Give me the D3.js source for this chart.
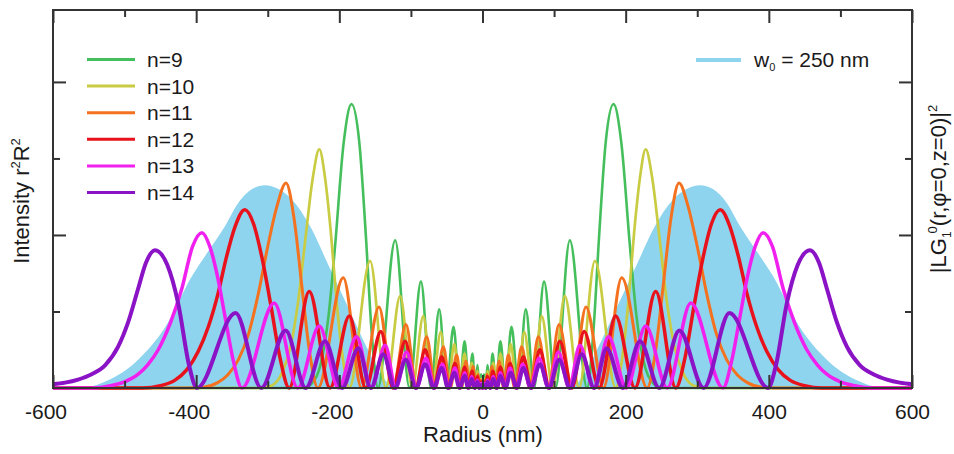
<!DOCTYPE html>
<html>
<head>
<meta charset="utf-8">
<script src="https://cdn.jsdelivr.net/npm/d3@7.9.0/dist/d3.min.js"></script>
<style>
  body { margin: 0; background: #fff; }
  svg { display: block; font-family: "Liberation Sans", Arial, sans-serif; }
</style>
</head>
<body>
<svg width="954" height="454"></svg>
<script>
// positive radius only (the plot is mirror-symmetric)
// [radius nm, intensity in tick units]
const n9 = [[0,0],[2,0.18],[4.5,0],[7,0.3],[10.5,0],[14,0.45],[19,0],[25,0.61],[32,0],[40.5,0.8],[50,0],[60.5,1.03],[72,0],[86,1.39],[102,0],[122,1.93],[146,0],[155,0.75],[163,2.0],[172,3.2],[183,3.71],[194,3.2],[206,1.85],[215,0.95],[224,0.4],[235,0.1],[250,0],[600,0]];
const n10 = [[0,0],[2,0.12],[4.5,0],[7,0.22],[11,0],[15,0.33],[20,0],[25,0.45],[32,0],[39.4,0.575],[48,0],[58.4,0.73],[70,0],[82.7,0.94],[98,0],[115,1.2],[135,0],[157,1.66],[186,0],[196,0.45],[204,1.15],[212,2.05],[220,2.75],[228,3.12],[237,2.75],[248,1.9],[258,1.1],[268,0.55],[280,0.2],[295,0.03],[312,0],[600,0]];
const n11 = [[0,0],[2,0.1],[4,0],[6,0.18],[9.5,0],[13,0.28],[18,0],[23,0.35],[29.5,0],[36,0.43],[45,0],[54.7,0.54],[66,0],[78,0.67],[92,0],[107,0.83],[125,0],[144.6,1.06],[169,0],[194.5,1.44],[230,0],[242,0.5],[252,1.3],[263,2.2],[274.5,2.68],[287,2.38],[300,1.85],[313,1.24],[327,0.7],[341,0.37],[356,0.17],[370,0.07],[390,0.01],[410,0],[600,0]];
const n12 = [[0,0],[2,0.08],[4.5,0],[7,0.15],[10.5,0],[14.5,0.22],[19.5,0],[25,0.27],[31.5,0],[38.4,0.32],[47,0],[57,0.41],[68,0],[80,0.5],[93.5,0],[108,0.61],[125,0],[142,0.74],[163,0],[186,0.94],[213,0],[242,1.26],[270,0],[283,0.4],[296,1.1],[308,1.7],[320,2.15],[332,2.33],[346,2.1],[358,1.7],[369,1.25],[383,0.8],[397,0.48],[413,0.24],[430,0.1],[450,0.03],[475,0],[600,0]];
const n13 = [[0,0],[2,0.06],[4.5,0],[7,0.1],[11,0],[15,0.15],[20,0],[25,0.2],[31.5,0],[38.4,0.26],[47,0],[56,0.31],[67,0],[79,0.39],[92,0],[106,0.47],[121,0],[136,0.56],[155,0],[176,0.67],[201,0],[228,0.81],[258,0],[291,1.11],[336,0],[348,0.35],[360,0.95],[370,1.45],[381,1.85],[392,2.03],[405,1.85],[420,1.3],[436,0.85],[453,0.5],[468,0.3],[481,0.18],[500,0.08],[520,0.03],[545,0],[600,0]];
const n14 = [[0,0],[2,0.04],[4.5,0],[7,0.08],[11,0],[15,0.12],[20,0],[25,0.16],[32,0],[39.4,0.2],[48,0],[57,0.26],[68,0],[80,0.31],[93,0],[107,0.37],[122.5,0],[138.6,0.44],[156,0],[173.5,0.52],[196,0],[220,0.61],[247,0],[275,0.75],[309,0],[345,0.98],[399,0],[410,0.3],[425,1.1],[440,1.6],[457.5,1.8],[470,1.64],[481,1.3],[495,0.86],[509,0.54],[527,0.3],[546,0.18],[565,0.11],[583,0.07],[600,0.05]];
const lg = [[0,0],[120,0],[140,0.15],[160,0.5],[190,1.1],[215,1.6],[240,2.1],[266,2.46],[285,2.6],[304,2.65],[322,2.6],[341,2.42],[360,2.11],[385,1.76],[406,1.46],[443,0.8],[481,0.37],[523,0.1],[555,0.01],[600,0]];

const seriesNames = ['n=9', 'n=10', 'n=11', 'n=12', 'n=13', 'n=14'];
const seriesData = [n9, n10, n11, n12, n13, n14];
const seriesColors = ['#45bf5c', '#c9cc42', '#f4721f', '#e8121c', '#f021ee', '#8b13c6'];
const seriesWidths = [2.6, 2.7, 3, 3.5, 3.5, 4];
const blueColor = '#8fd4ee';

const xMajor = [-600, -400, -200, 0, 200, 400, 600];
const xMinor = [-500, -300, -100, 100, 300, 500];
const yMajor = [2, 4];
const yMinor = [1, 3];

const svg = d3.select('svg');
const x = d3.scaleLinear().domain([-600, 600]).range([53, 912]);
const y = d3.scaleLinear().domain([0, 4.94]).range([388, 10]);

// mirror the half profile onto negative radius
const mirror = (pts) => pts.slice(1).map(([r, v]) => [-r, v]).reverse().concat(pts);

const line = d3.line().x(d => x(d[0])).y(d => y(d[1])).curve(d3.curveMonotoneX);
const area = d3.area().x(d => x(d[0])).y0(y(0)).y1(d => y(d[1])).curve(d3.curveMonotoneX);

svg.append('path')
  .attr('d', area(mirror(lg)))
  .attr('fill', blueColor);

seriesData.forEach((pts, i) => {
  svg.append('path')
    .attr('d', line(mirror(pts)))
    .attr('fill', 'none')
    .attr('stroke', seriesColors[i])
    .attr('stroke-width', seriesWidths[i])
    .attr('stroke-linejoin', 'round');
});

// axes, ticks pointing inward
const axisColor = '#333';
function styleAxis(g) {
  g.select('.domain').remove();
  g.selectAll('line').attr('stroke', axisColor).attr('stroke-width', 2);
  g.selectAll('text').attr('font-size', 21).attr('fill', '#1a1a1a')
    .style('font-family', '"Liberation Sans", Arial, sans-serif');
}

svg.append('g').attr('transform', 'translate(0,388)')
  .call(d3.axisBottom(x).tickValues(xMajor).tickSize(-13).tickPadding(16).tickFormat(d => String(d)))
  .call(styleAxis)
  .selectAll('text').attr('dx', d => d < 0 ? -7.5 : 0);
svg.append('g').attr('transform', 'translate(0,388)')
  .call(d3.axisBottom(x).tickValues(xMinor).tickSize(-7).tickFormat(''))
  .call(styleAxis);
svg.append('g').attr('transform', 'translate(0,10)')
  .call(d3.axisTop(x).tickValues(xMajor).tickSize(-13).tickFormat(''))
  .call(styleAxis);
svg.append('g').attr('transform', 'translate(0,10)')
  .call(d3.axisTop(x).tickValues(xMinor).tickSize(-7).tickFormat(''))
  .call(styleAxis);
svg.append('g').attr('transform', 'translate(53,0)')
  .call(d3.axisLeft(y).tickValues(yMajor).tickSize(-13).tickFormat(''))
  .call(styleAxis);
svg.append('g').attr('transform', 'translate(53,0)')
  .call(d3.axisLeft(y).tickValues(yMinor).tickSize(-7).tickFormat(''))
  .call(styleAxis);
svg.append('g').attr('transform', 'translate(912,0)')
  .call(d3.axisRight(y).tickValues(yMajor).tickSize(-13).tickFormat(''))
  .call(styleAxis);
svg.append('g').attr('transform', 'translate(912,0)')
  .call(d3.axisRight(y).tickValues(yMinor).tickSize(-7).tickFormat(''))
  .call(styleAxis);

svg.append('rect')
  .attr('x', x(-600)).attr('y', y(4.94))
  .attr('width', x(600) - x(-600)).attr('height', y(0) - y(4.94))
  .attr('fill', 'none').attr('stroke', axisColor).attr('stroke-width', 2);

// axis titles
svg.append('text')
  .attr('x', 483).attr('y', 442)
  .attr('text-anchor', 'middle').attr('font-size', 22).attr('fill', '#1a1a1a')
  .text('Radius (nm)');

const yTitle = svg.append('text')
  .attr('transform', 'translate(29,201) rotate(-90)')
  .attr('text-anchor', 'middle').attr('font-size', 22).attr('fill', '#1a1a1a');
yTitle.append('tspan').text('Intensity r');
yTitle.append('tspan').attr('font-size', 13).attr('dy', -9).text('2');
yTitle.append('tspan').attr('dy', 9).text('R');
yTitle.append('tspan').attr('font-size', 13).attr('dy', -9).text('2');

const rTitle = svg.append('text')
  .attr('transform', 'translate(946,189) rotate(-90)')
  .attr('text-anchor', 'middle').attr('font-size', 22).attr('fill', '#1a1a1a');
rTitle.append('tspan').text('|LG');
rTitle.append('tspan').attr('font-size', 12).attr('dy', 5).text('1');
rTitle.append('tspan').attr('font-size', 13).attr('dy', -14).attr('dx', -2).text('0');
rTitle.append('tspan').attr('dy', 9).text('(r,\u03c6=0,z=0)|');
rTitle.append('tspan').attr('font-size', 13).attr('dy', -9).text('2');

// legend, left
const legend = svg.append('g');
seriesNames.forEach((name, i) => {
  const ly = 59.5 + i * 26.6;
  legend.append('line')
    .attr('x1', 87).attr('x2', 135).attr('y1', ly).attr('y2', ly)
    .attr('stroke', seriesColors[i]).attr('stroke-width', 3);
  legend.append('text')
    .attr('x', 147).attr('y', ly + 7.5)
    .attr('font-size', 21).attr('fill', '#1a1a1a')
    .text(name);
});

// legend, right
svg.append('line')
  .attr('x1', 696).attr('x2', 741).attr('y1', 60).attr('y2', 60)
  .attr('stroke', blueColor).attr('stroke-width', 4);
const wText = svg.append('text')
  .attr('x', 754).attr('y', 67).attr('font-size', 21).attr('fill', '#1a1a1a');
wText.append('tspan').text('w');
wText.append('tspan').attr('font-size', 11).attr('dy', 4).text('0');
wText.append('tspan').attr('dy', -4).text(' = 250 nm');
</script>
</body>
</html>
